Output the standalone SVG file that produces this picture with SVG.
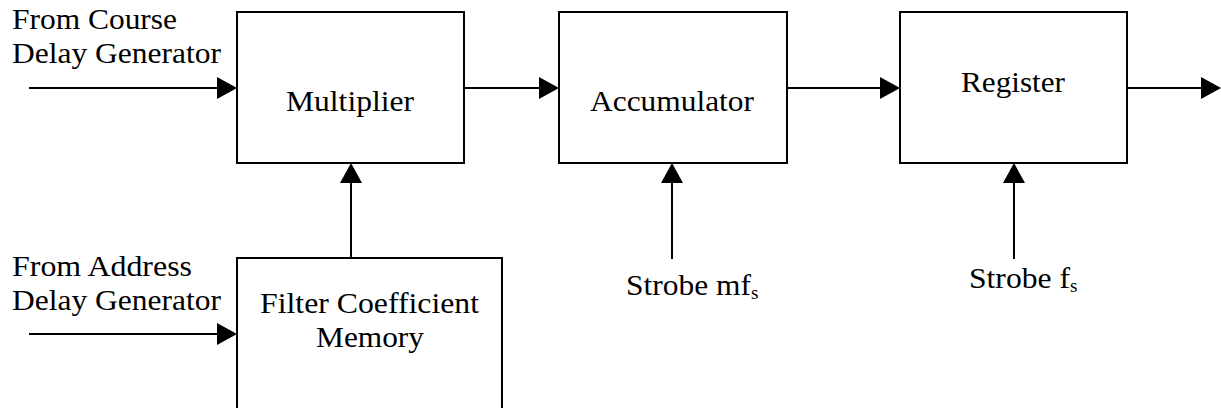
<svg xmlns="http://www.w3.org/2000/svg" width="1221" height="408" viewBox="0 0 1221 408">
<style>
.box{fill:#fff;stroke:#000;stroke-width:2}
.ln{stroke:#000;stroke-width:2;fill:none}
.ah{fill:#000;stroke:none}
text{font-family:"Liberation Serif","Times New Roman",serif;font-size:29px;fill:#000}
.sub{font-size:19px}
</style>
<rect width="1221" height="408" fill="#fff"/>
<g id="labels">
<text x="12" y="29" textLength="165" lengthAdjust="spacingAndGlyphs">From Course</text>
<text x="12" y="63" textLength="209" lengthAdjust="spacingAndGlyphs">Delay Generator</text>
<text x="12" y="276" textLength="180" lengthAdjust="spacingAndGlyphs">From Address</text>
<text x="12" y="310" textLength="209" lengthAdjust="spacingAndGlyphs">Delay Generator</text>
<text x="626" y="295"><tspan textLength="125" lengthAdjust="spacingAndGlyphs">Strobe mf</tspan><tspan class="sub" x="751" y="299">s</tspan></text>
<text x="969" y="288"><tspan textLength="101" lengthAdjust="spacingAndGlyphs">Strobe f</tspan><tspan class="sub" x="1070" y="292">s</tspan></text>
</g>
<g id="multiplier">
<rect class="box" x="237" y="12" width="227" height="151"/>
<text x="286" y="111" textLength="128" lengthAdjust="spacingAndGlyphs">Multiplier</text>
</g>
<g id="accumulator">
<rect class="box" x="559" y="12" width="228" height="151"/>
<text x="590" y="111" textLength="164" lengthAdjust="spacingAndGlyphs">Accumulator</text>
</g>
<g id="register">
<rect class="box" x="900" y="12" width="227" height="151"/>
<text x="961" y="92" textLength="104" lengthAdjust="spacingAndGlyphs">Register</text>
</g>
<g id="memory">
<rect class="box" x="237" y="258" width="265" height="170"/>
<text x="260" y="313" textLength="219" lengthAdjust="spacingAndGlyphs">Filter Coefficient</text>
<text x="316" y="347" textLength="108" lengthAdjust="spacingAndGlyphs">Memory</text>
</g>
<g id="connectors">
<line class="ln" x1="29" y1="88" x2="218" y2="88"/>
<polygon class="ah" points="237,88 217,77 217,99"/>
<line class="ln" x1="29" y1="334" x2="218" y2="334"/>
<polygon class="ah" points="237,334 217,323 217,345"/>
<line class="ln" x1="464" y1="88" x2="540" y2="88"/>
<polygon class="ah" points="559,88 539,77 539,99"/>
<line class="ln" x1="787" y1="88" x2="881" y2="88"/>
<polygon class="ah" points="900,88 880,77 880,99"/>
<line class="ln" x1="1127" y1="88" x2="1202" y2="88"/>
<polygon class="ah" points="1221,88 1201,77 1201,99"/>
<line class="ln" x1="351" y1="258" x2="351" y2="182"/>
<polygon class="ah" points="351,163 340,183 362,183"/>
<line class="ln" x1="672" y1="259" x2="672" y2="182"/>
<polygon class="ah" points="672,163 661,183 683,183"/>
<line class="ln" x1="1014" y1="259" x2="1014" y2="182"/>
<polygon class="ah" points="1014,163 1003,183 1025,183"/>
</g>
</svg>
